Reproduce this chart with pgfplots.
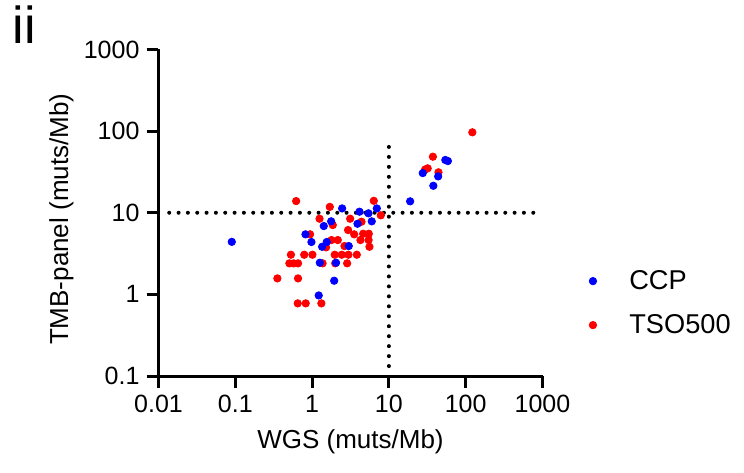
\documentclass[border=0pt]{standalone}
\usepackage{pgfplots}
\pgfplotsset{compat=1.18}
\usepackage{fontspec}
\setmainfont{Liberation Sans}
\definecolor{ccp}{RGB}{0,0,255}
\definecolor{tso}{RGB}{255,0,0}
\pgfplotsset{mylegimg/.style={legend image code/.code={\draw[mark repeat=2,mark phase=2,##1] plot coordinates {(-3pt,0pt) (0pt,0pt) (16pt,0pt)}; \path (-3pt,0pt) (16pt,0pt);}}}
\begin{document}
\begin{tikzpicture}
\begin{axis}[
  at={(0,0)}, anchor=south west,
  scale only axis, width=192pt, height=163.25pt,
  xmode=log, ymode=log,
  xmin=0.01, xmax=1000, ymin=0.1, ymax=1000,
  axis lines=left,
  axis line style={-, line width=1.5pt, black},
  tick align=outside, major tick length=6pt,
  tick style={line width=1.5pt, black},
  xminorticks=false, yminorticks=false,
  xtick={0.01,0.1,1,10,100,1000}, xticklabels={0.01,0.1,1,10,100,1000},
  ytick={0.1,1,10,100,1000}, yticklabels={0.1,1,10,100,1000},
  tick label style={font=\fontsize{12.5}{15}\selectfont},
  label style={font=\fontsize{13}{15.5}\selectfont},
  xlabel={WGS (muts/Mb)}, ylabel={TMB-panel (muts/Mb)},
  xlabel style={at={(axis description cs:0.5,-0.2)}, anchor=center},
  ylabel style={at={(axis description cs:-0.253,0.48)}, anchor=center},
  clip=false,
  reverse legend,
  legend style={draw=none, fill=none, font=\fontsize{13.6}{16}\selectfont,
    at={(1.098,0.35)}, anchor=north west, row sep=7pt},
  legend cell align=left,
]
\addplot[forget plot, black, line width=2pt, line cap=round, dash pattern=on 0pt off 4.667pt]
  coordinates {(0.0138,10) (768,10)};
\addplot[forget plot, black, line width=2pt, line cap=round, dash pattern=on 0pt off 4.98pt]
  coordinates {(10,64) (10,0.1)};
\addplot[only marks, mark=*, mark size=1.85pt, color=tso, mark options={draw=none, fill=tso}, mylegimg]
  coordinates {
  (0.62,13.9) (1.70,11.8) (6.36,14.0) (7.85,9.3) (1.25,8.45) (3.13,8.45)
  (4.4,7.76) (1.86,7.07) (0.94,5.44) (2.94,6.14) (3.53,5.44) (4.62,5.53)
  (5.47,5.53) (4.26,4.63) (5.44,4.63) (5.58,3.83) (1.79,4.63) (2.16,4.63)
  (2.64,3.91) (1.52,3.77) (0.53,3.06) (0.79,3.06) (1.01,3.06) (1.97,3.06)
  (2.43,3.06) (2.97,3.06) (3.82,3.06) (0.506,2.4) (0.575,2.4) (0.656,2.4)
  (1.37,2.4) (2.0,2.4) (2.86,2.4) (0.353,1.57) (0.656,1.57) (0.65,0.776)
  (0.826,0.776) (1.32,0.776)
  (122,96.7) (37.4,48.6) (32,35) (29.6,33.8) (44.2,31.3)
  };
\addlegendentry{TSO500}
\addplot[only marks, mark=*, mark size=1.85pt, color=ccp, mark options={draw=none, fill=ccp}, mylegimg]
  coordinates {
  (0.09,4.4) (2.46,11.3) (4.14,10.3) (5.42,9.84) (6.96,11.3) (5.98,7.85)
  (3.9,7.33) (1.77,7.85) (1.42,6.87) (0.82,5.44) (0.98,4.38) (1.55,4.38)
  (1.35,3.83) (3.0,3.91) (1.26,2.44) (2.05,2.44) (1.94,1.47) (1.22,0.97)
  (54.3,44.3) (58.6,43) (27.6,30.6) (43.8,27.9) (37.9,21.4) (18.9,13.8)
  };
\addlegendentry{CCP}
\end{axis}
\node[anchor=base west, inner sep=0pt, font=\fontsize{26}{30}\selectfont] at (-73pt,166.5pt) {ii};
\pgfresetboundingbox
\useasboundingbox (-79.25pt,-48pt) rectangle (292.75pt,188pt);
\end{tikzpicture}
\end{document}
